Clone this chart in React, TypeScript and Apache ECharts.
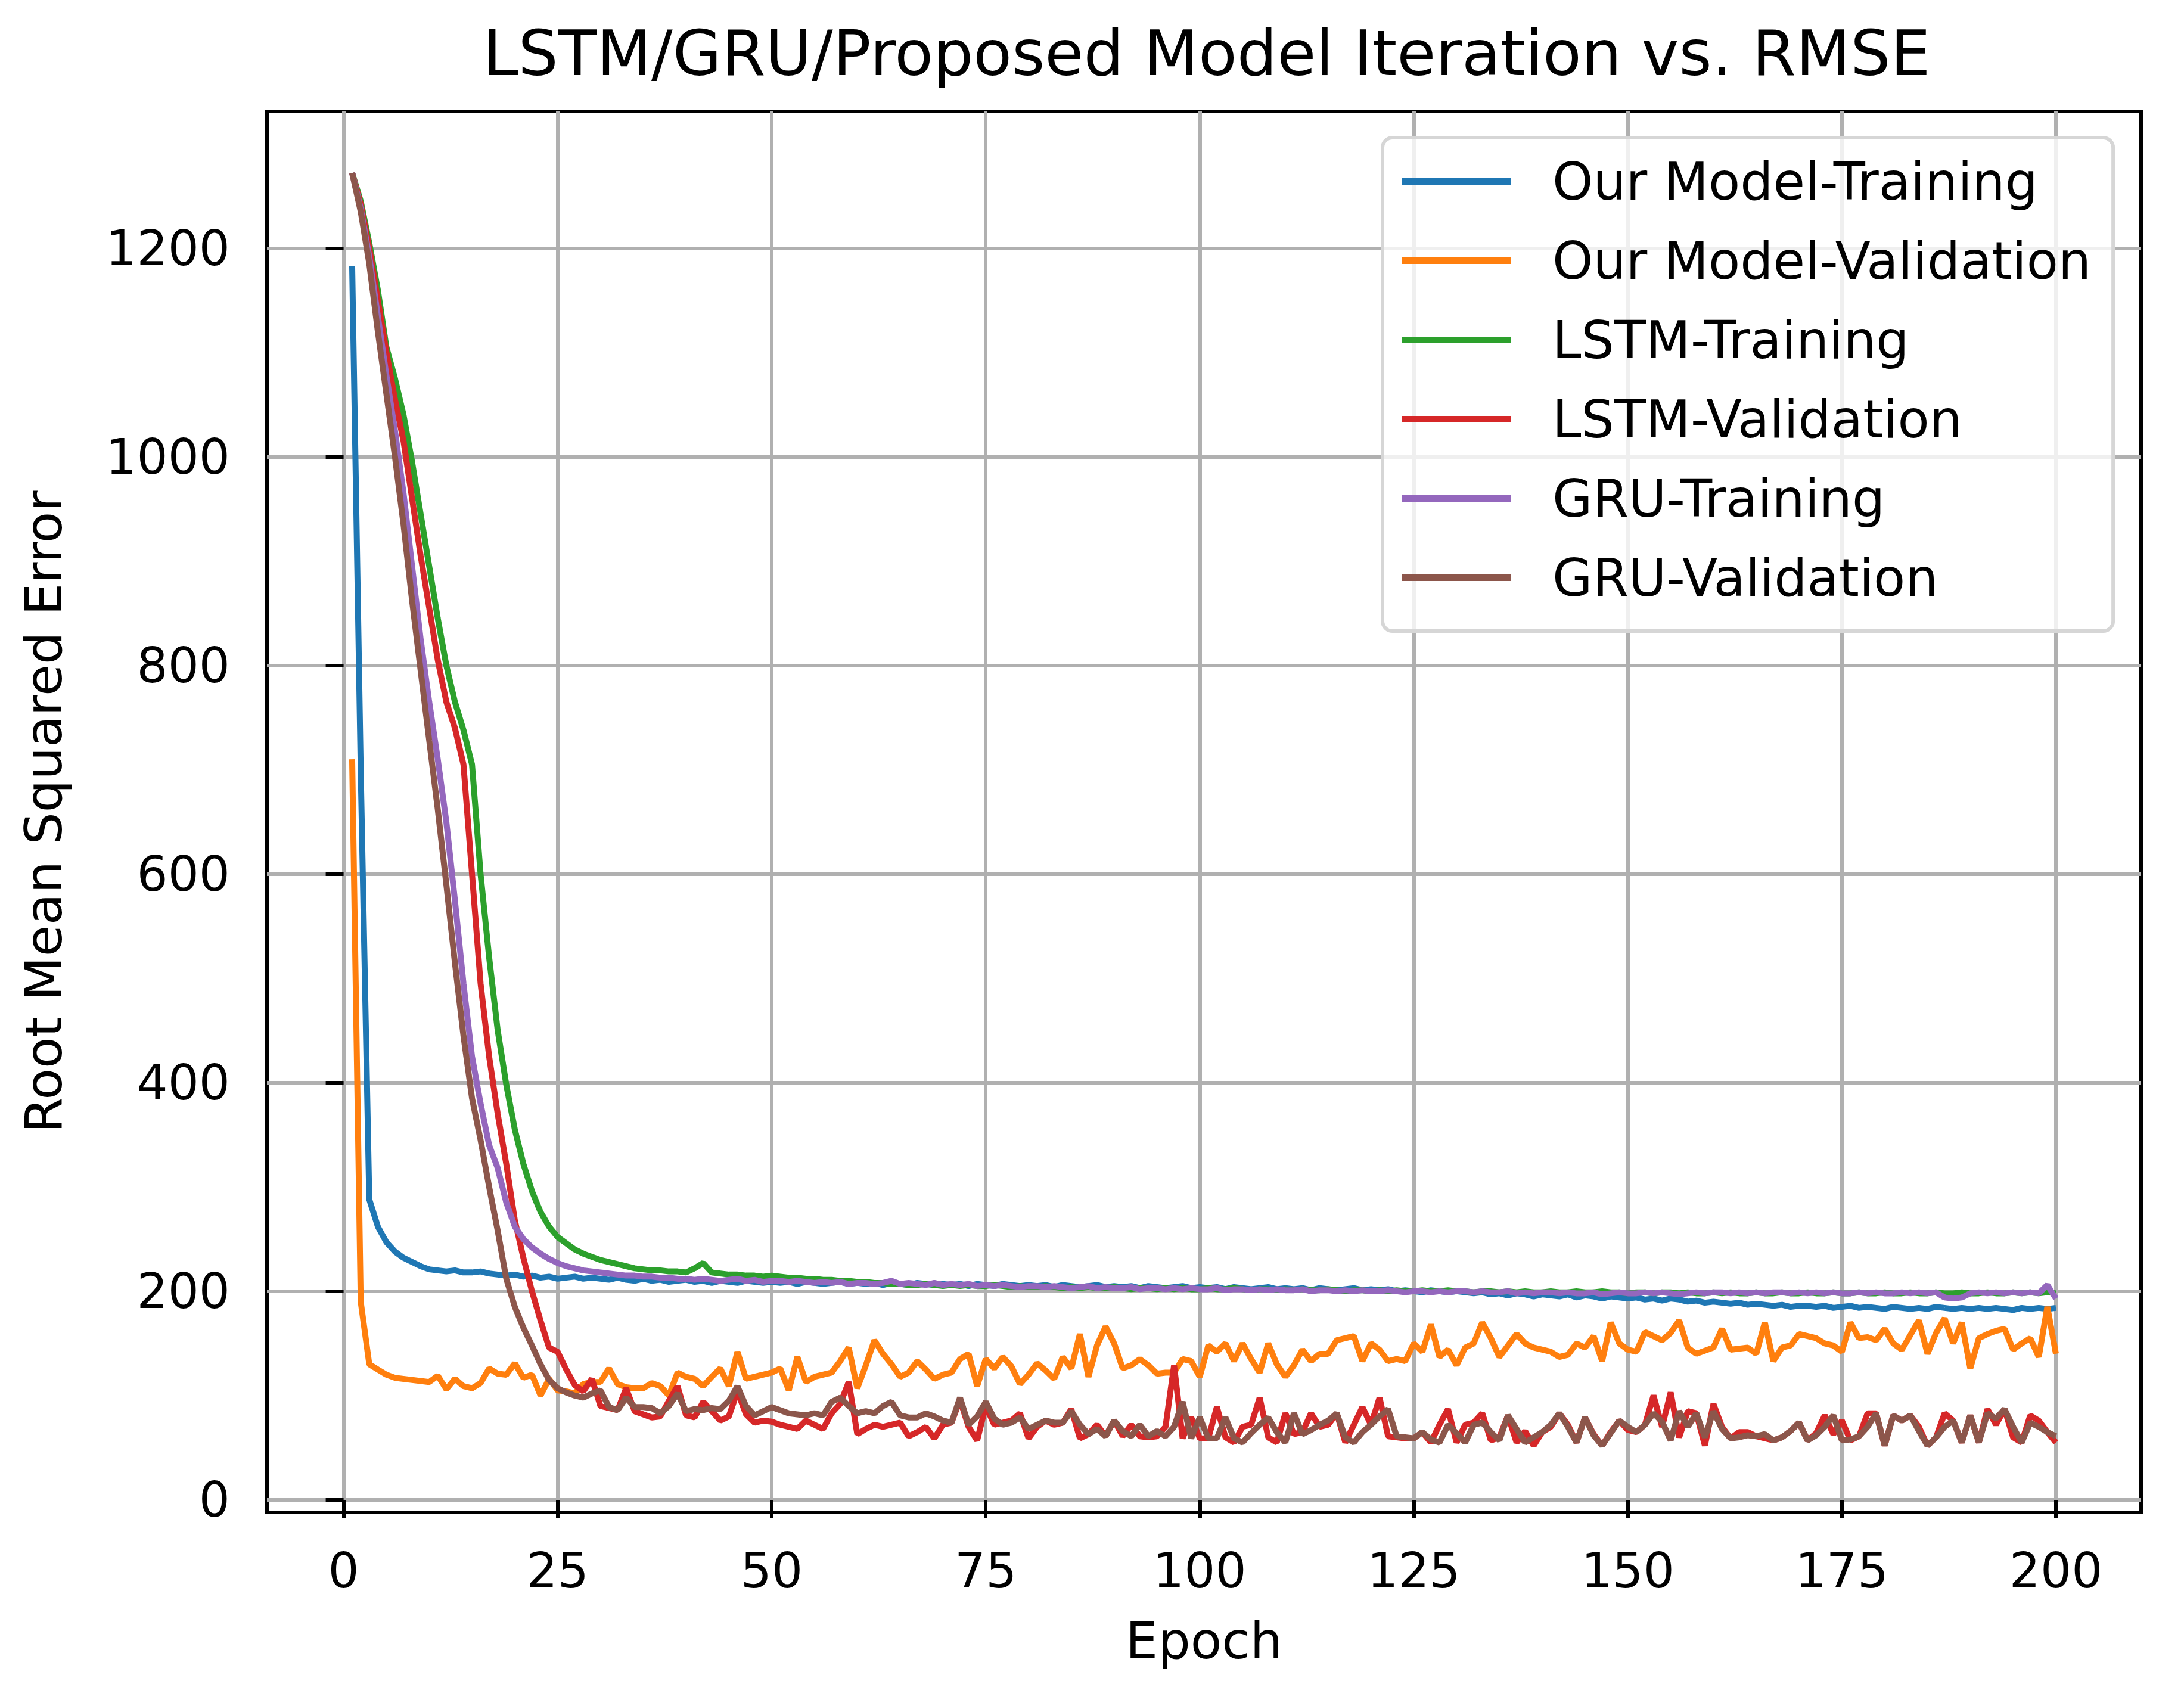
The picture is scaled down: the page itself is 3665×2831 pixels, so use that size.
import React, { useEffect, useRef } from 'react';
import * as echarts from 'echarts';

// epochs 1..200
const epochs: number[] = Array.from({ length: 200 }, (_, i) => i + 1);

const seriesNames = [
  'Our Model-Training',
  'Our Model-Validation',
  'LSTM-Training',
  'LSTM-Validation',
  'GRU-Training',
  'GRU-Validation',
];

const colors = ['#1f77b4', '#ff7f0e', '#2ca02c', '#d62728', '#9467bd', '#8c564b'];

const xTicks = [0, 25, 50, 75, 100, 125, 150, 175, 200];
const yTicks = [0, 200, 400, 600, 800, 1000, 1200];

// 读图估计的 RMSE 数值
const ourTrain = [
  1183, 700, 288, 262, 247, 238, 232, 228, 224, 221,
  220, 219, 220, 218, 218, 219, 217, 216, 215, 216,
  214, 215, 213, 214, 212, 213, 214, 212, 213, 212,
  211, 213, 211, 210, 212, 210, 211, 209, 210, 211,
  209, 210, 208, 210, 209, 208, 210, 209, 208, 209,
  208, 209, 207, 209, 208, 207, 208, 209, 207, 208,
  207, 208, 206, 208, 207, 206, 208, 207, 206, 207,
  206, 207, 205, 207, 206, 205, 207, 206, 205, 206,
  205, 206, 204, 206, 205, 204, 205, 206, 204, 205,
  204, 205, 203, 205, 204, 203, 204, 205, 203, 204,
  203, 204, 202, 204, 203, 202, 203, 204, 202, 203,
  202, 203, 201, 203, 202, 201, 202, 203, 201, 202,
  201, 202, 200, 201, 200, 199, 201, 200, 199, 200,
  199, 198, 199, 197, 198, 196, 198, 197, 195, 197,
  196, 195, 197, 194, 196, 195, 193, 195, 194, 193,
  194, 192, 193, 191, 193, 192, 190, 191, 189, 190,
  189, 188, 189, 187, 188, 187, 186, 187, 185, 186,
  186, 185, 186, 184, 185, 186, 184, 185, 184, 183,
  185, 184, 183, 184, 183, 185, 184, 183, 184, 183,
  184, 183, 184, 183, 182, 184, 183, 184, 183, 184,
];

const ourVal = [
  710, 190, 130, 125, 120, 117, 116, 115, 114, 113,
  119, 106, 116, 109, 107, 112, 126, 121, 120, 131,
  117, 120, 100, 116, 105, 104, 102, 111, 113, 113,
  126, 111, 108, 107, 107, 112, 109, 100, 122, 118,
  116, 109, 118, 126, 109, 142, 116, 118, 120, 122,
  126, 105, 137, 113, 118, 120, 122, 133, 146, 107,
  129, 153, 140, 130, 118, 122, 133, 125, 116, 120,
  122, 135, 140, 109, 135, 126, 137, 128, 111, 120,
  131, 124, 116, 137, 126, 159, 118, 148, 166, 150,
  126, 129, 135, 129, 121, 122, 122, 135, 133, 118,
  148, 142, 150, 133, 150, 135, 122, 150, 130, 118,
  129, 144, 133, 140, 140, 153, 155, 157, 133, 150,
  144, 133, 135, 133, 150, 142, 168, 137, 144, 129,
  146, 150, 170, 155, 137, 148, 159, 150, 146, 144,
  142, 137, 139, 150, 146, 157, 133, 170, 150, 144,
  142, 161, 157, 153, 160, 172, 146, 140, 143, 146,
  164, 144, 145, 146, 140, 170, 133, 146, 148, 159,
  157, 155, 150, 148, 142, 170, 155, 156, 153, 164,
  150, 144, 158, 172, 140, 160, 174, 150, 170, 126,
  155, 159, 162, 164, 144, 150, 155, 137, 185, 140,
];

const lstmTrain = [
  1272, 1245, 1205, 1160, 1105, 1075, 1040, 995, 945, 895,
  845, 800, 765, 738, 705, 600, 520, 450, 398, 355,
  322, 296, 276, 262, 252, 246, 240, 236, 233, 230,
  228, 226, 224, 222, 221, 220, 220, 219, 219, 218,
  222, 227, 218, 217, 216, 216, 215, 215, 214, 215,
  214, 213, 213, 212, 212, 211, 211, 210, 210, 209,
  209, 208, 208, 207, 207, 206, 206, 207, 206, 205,
  206, 205, 206, 205, 205, 206, 205, 204, 205, 204,
  204, 205, 204, 203, 204, 203, 204, 203, 203, 204,
  203, 202, 203, 203, 202, 203, 202, 203, 202, 202,
  203, 202, 202, 203, 202, 201, 202, 202, 201, 202,
  201, 202, 201, 201, 202, 201, 200, 201, 201, 200,
  201, 200, 201, 200, 200, 201, 200, 200, 201, 200,
  200, 199, 200, 200, 199, 200, 199, 200, 199, 199,
  200, 199, 199, 200, 199, 199, 200, 199, 199, 198,
  199, 199, 198, 199, 199, 198, 199, 198, 198, 199,
  198, 199, 198, 198, 199, 198, 198, 199, 198, 198,
  199, 198, 198, 199, 198, 198, 199, 198, 198, 199,
  198, 198, 199, 198, 198, 199, 198, 198, 199, 198,
  198, 199, 198, 198, 199, 198, 199, 198, 199, 198,
];

const lstmVal = [
  1272, 1242, 1200, 1150, 1100, 1055, 1015, 960, 905, 855,
  805, 765, 740, 705, 600, 495, 425, 370, 322, 268,
  232, 200, 172, 146, 142, 125, 110, 104, 116, 90,
  88, 86, 107, 85, 82, 79, 80, 95, 109, 81,
  79, 94, 85, 76, 80, 104, 82, 74, 76, 75,
  72, 70, 68, 76, 72, 68, 83, 92, 113, 63,
  68, 72, 70, 72, 74, 61, 65, 70, 59, 72,
  74, 96, 70, 57, 90, 72, 74, 76, 83, 59,
  70, 76, 72, 74, 87, 59, 63, 72, 61, 76,
  61, 72, 61, 60, 61, 70, 129, 59, 79, 59,
  59, 89, 60, 55, 70, 72, 98, 60, 55, 83,
  63, 65, 83, 70, 72, 83, 55, 72, 89, 72,
  98, 61, 60, 59, 59, 65, 55, 72, 87, 55,
  72, 74, 83, 57, 60, 81, 55, 66, 52, 65,
  70, 83, 72, 55, 79, 63, 52, 65, 76, 67,
  65, 72, 100, 70, 103, 60, 85, 83, 52, 92,
  70, 59, 65, 65, 61, 59, 57, 60, 66, 74,
  57, 64, 81, 63, 76, 57, 61, 83, 83, 52,
  81, 76, 81, 70, 52, 60, 83, 76, 55, 81,
  55, 87, 72, 87, 60, 55, 81, 76, 65, 55,
];

const gruTrain = [
  1272, 1238, 1192, 1135, 1078, 1025, 965, 895, 825, 765,
  710, 650, 575, 495, 425, 380, 340, 318, 285, 262,
  250, 242, 236, 231, 227, 224, 222, 220, 219, 218,
  217, 216, 215, 215, 214, 214, 213, 213, 212, 212,
  211, 212, 211, 210, 211, 212, 210, 211, 209, 210,
  210, 209, 210, 209, 208, 209, 208, 209, 207, 208,
  208, 207, 208, 210, 207, 208, 207, 206, 208, 206,
  207, 206, 207, 205, 206, 205, 206, 205, 204, 205,
  205, 204, 205, 204, 203, 204, 205, 203, 204, 203,
  203, 204, 202, 203, 203, 202, 203, 202, 203, 202,
  202, 203, 201, 202, 202, 201, 202, 201, 202, 201,
  201, 202, 200, 201, 201, 200, 201, 200, 201, 200,
  200, 201, 200, 199, 200, 200, 199, 200, 199, 200,
  200, 199, 200, 199, 199, 200, 198, 199, 198, 199,
  199, 198, 199, 198, 198, 199, 197, 198, 199, 198,
  198, 199, 198, 199, 198, 197, 198, 199, 198, 199,
  199, 198, 199, 198, 199, 198, 199, 199, 198, 199,
  198, 199, 198, 199, 198, 198, 199, 198, 199, 198,
  198, 199, 198, 199, 198, 199, 194, 193, 194, 198,
  199, 198, 199, 198, 199, 198, 199, 198, 206, 193,
];

const gruVal = [
  1272, 1235, 1185, 1120, 1060, 1000, 935, 862, 795, 728,
  662, 590, 515, 445, 385, 345, 300, 258, 212, 185,
  165, 148, 130, 115, 107, 103, 100, 98, 102, 105,
  89, 86, 98, 89, 89, 88, 83, 90, 102, 85,
  87, 86, 88, 87, 95, 109, 90, 81, 85, 89,
  86, 83, 82, 81, 83, 81, 94, 98, 90, 83,
  85, 83, 90, 94, 81, 79, 79, 83, 80, 76,
  74, 98, 72, 80, 94, 78, 72, 74, 79, 68,
  72, 76, 74, 74, 85, 72, 63, 68, 61, 76,
  66, 61, 72, 61, 66, 61, 70, 94, 59, 79,
  59, 59, 79, 59, 55, 64, 72, 79, 65, 55,
  83, 63, 67, 72, 76, 83, 60, 55, 65, 72,
  80, 87, 61, 60, 59, 65, 58, 55, 72, 64,
  55, 72, 74, 65, 57, 81, 68, 55, 60, 65,
  72, 83, 70, 55, 79, 62, 52, 64, 76, 70,
  65, 72, 83, 75, 57, 85, 70, 83, 60, 85,
  68, 59, 60, 62, 61, 63, 57, 60, 66, 74,
  57, 62, 70, 81, 57, 58, 61, 70, 83, 52,
  81, 76, 81, 66, 52, 60, 70, 76, 55, 81,
  55, 83, 78, 87, 70, 55, 74, 70, 65, 61,
];

const allValues = [ourTrain, ourVal, lstmTrain, lstmVal, gruTrain, gruVal];

const FONT = 'DejaVu Sans';

const App: React.FC = () => {
  const chartRef = useRef<HTMLDivElement>(null);

  useEffect(() => {
    if (!chartRef.current) return;
    document.body.style.margin = '0';
    const chart = echarts.init(chartRef.current, null, { renderer: 'svg' });

    const series = seriesNames.map((name, i) => ({
      name,
      type: 'line',
      showSymbol: false,
      symbol: 'none',
      data: epochs.map((e, j) => [e, allValues[i][j]]),
      lineStyle: { width: 10, color: colors[i] },
      itemStyle: { color: colors[i] },
      emphasis: { disabled: true },
    }));

    const option = {
      animation: false,
      backgroundColor: '#ffffff',
      title: {
        text: 'LSTM/GRU/Proposed Model Iteration vs. RMSE',
        left: 2020,
        textAlign: 'center',
        top: 31,
        textStyle: { fontFamily: FONT, fontSize: 106, fontWeight: 'normal', color: '#000' },
      },
      legend: {
        orient: 'vertical',
        left: 2320,
        top: 231,
        padding: [30, 37, 46, 32],
        itemGap: 46,
        itemWidth: 183,
        itemHeight: 11,
        icon: 'rect',
        selectedMode: false,
        data: seriesNames,
        textStyle: { fontFamily: FONT, fontSize: 87, color: '#000', padding: [0, 0, 0, 65] },
        backgroundColor: 'rgba(255,255,255,0.8)',
        borderColor: '#d6d6d6',
        borderWidth: 6,
        borderRadius: 17,
      },
      grid: {
        left: 448,
        right: 72,
        top: 187,
        bottom: 293,
        show: true,
        borderColor: '#000',
        borderWidth: 6,
        backgroundColor: 'transparent',
        outerBoundsMode: 'none',
      },
      xAxis: {
        type: 'value',
        min: -8.95,
        max: 209.95,
        name: 'Epoch',
        nameLocation: 'middle',
        nameGap: 172,
        nameTextStyle: { fontFamily: FONT, fontSize: 86, color: '#000' },
        axisLine: { show: false },
        axisTick: { show: true, inside: false, length: 30, customValues: xTicks, lineStyle: { color: '#000', width: 6 } },
        axisLabel: {
          customValues: xTicks,
          margin: 56,
          fontFamily: FONT,
          fontSize: 82,
          color: '#000',
          formatter: (v: number) => String(v),
        },
        splitLine: { show: true, lineStyle: { color: '#b0b0b0', width: 6 } },
      },
      yAxis: {
        type: 'value',
        min: -12,
        max: 1331,
        name: 'Root Mean Squared Error',
        nameLocation: 'middle',
        nameRotate: 90,
        nameGap: 332,
        nameTextStyle: { fontFamily: FONT, fontSize: 86, color: '#000' },
        axisLine: { show: false },
        axisTick: { show: true, inside: false, length: 30, customValues: yTicks, lineStyle: { color: '#000', width: 6 } },
        axisLabel: {
          customValues: yTicks,
          margin: 62,
          fontFamily: FONT,
          fontSize: 82,
          color: '#000',
          formatter: (v: number) => String(v),
        },
        splitLine: { show: true, lineStyle: { color: '#b0b0b0', width: 6 } },
      },
      series,
    };

    chart.setOption(option as any, true);

    const handleResize = () => chart.resize();
    window.addEventListener('resize', handleResize);
    return () => {
      window.removeEventListener('resize', handleResize);
      chart.dispose();
    };
  }, []);

  return (
    <div
      ref={chartRef}
      style={{ position: 'fixed', left: 0, top: 0, width: 3665, height: 2831, background: '#fff' }}
    />
  );
};

export default App;
